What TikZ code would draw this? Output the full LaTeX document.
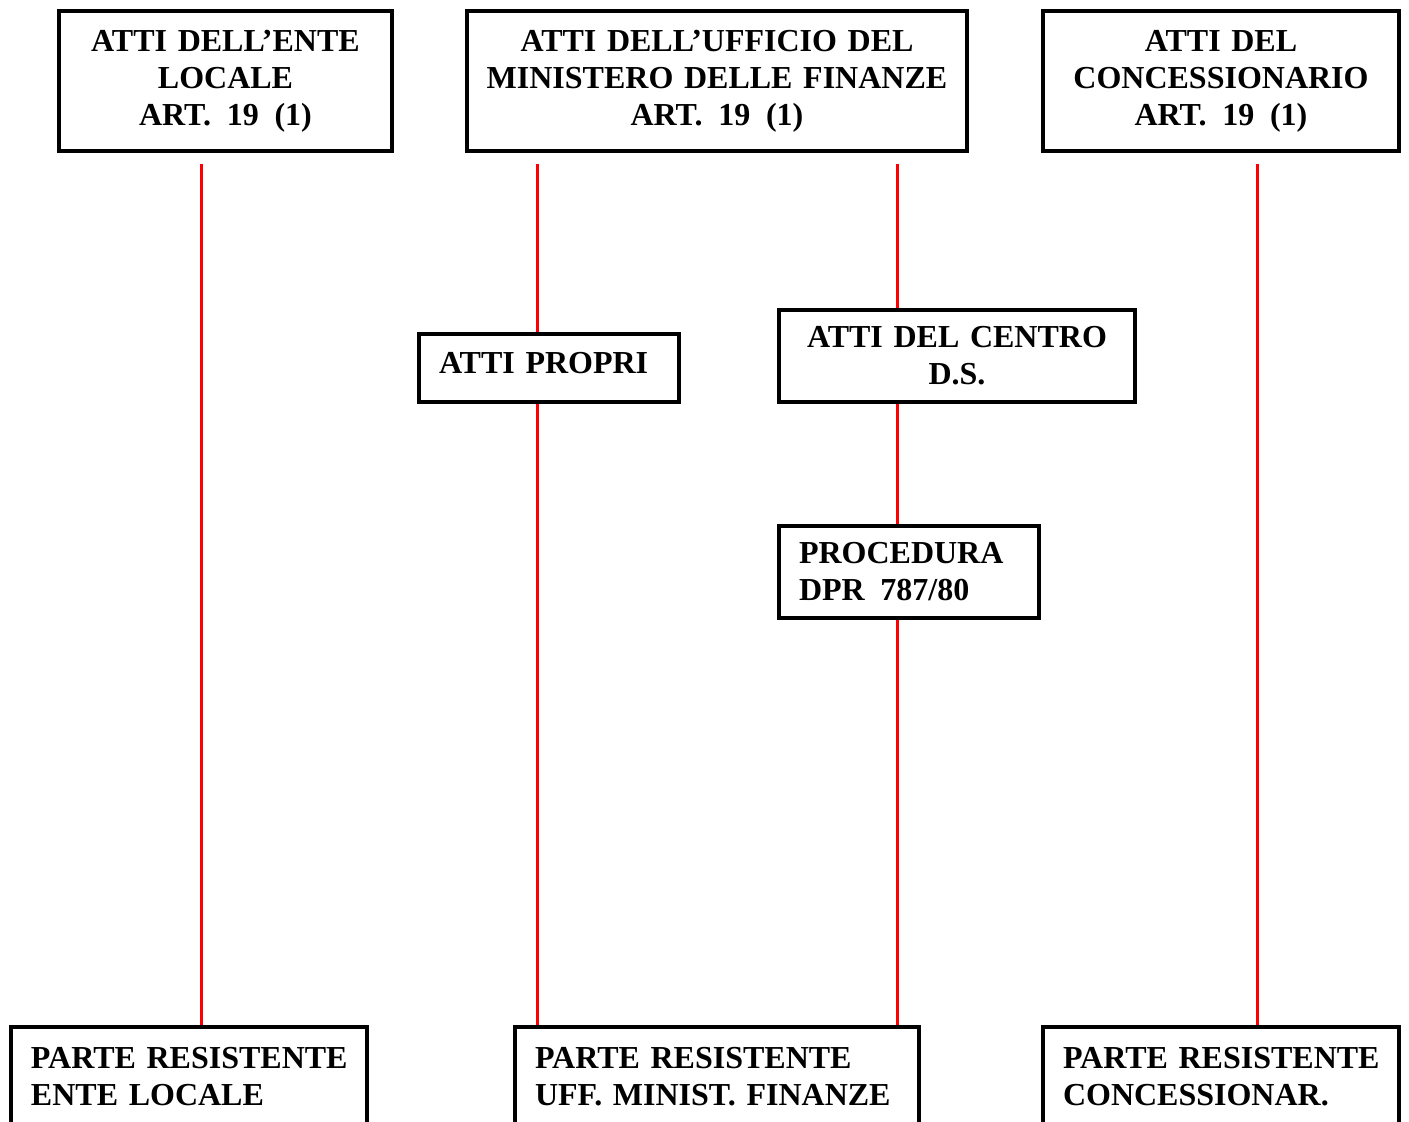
\documentclass[tikz,border=0pt]{standalone}
\usepackage{fontspec}
\setmainfont{Liberation Serif}
\usetikzlibrary{positioning, calc}
\tikzset{atto/.style={draw, line width=2pt, inner xsep=10pt, inner ysep=0pt, font=\bfseries\fontsize{16}{18.5}\selectfont, execute at begin node={\hyphenpenalty=10000\relax}},
	filo/.style={draw=red, line width=1.5pt},}
\newcommand{\gap}{\hspace{.49em}}

\begin{document}
\begin{tikzpicture}[x=0.5pt, y=-0.5pt]
			\useasboundingbox (0,0) rectangle (1409,1121);
			% Boxes on top
			\node[atto, inner xsep=4pt, align=center, text width=158.5pt, minimum height=70pt] (1) at (225.5,81) {ATTI DELL’ENTE\\LOCALE\\ART.\gap19\gap(1)};
			\node[atto, inner xsep=4pt, align=center, text width=242pt, minimum height=70pt] (2) at (717,81) {ATTI DELL’UFFICIO DEL\\MINISTERO~DELLE~FINANZE\\ART.\gap19\gap(1)};
			\node[atto, inner xsep=4pt, align=center, text width=170pt, minimum height=70pt] (3) at (1221,81) {ATTI DEL\\CONCESSIONARIO\\ART.\gap19\gap(1)};
			% Boxes in between
			\node[atto, align=left, text width=110pt, minimum height=34pt, text depth=5pt] (p) at (549,368) {ATTI~PROPRI};
			\node[atto, inner xsep=4pt, align=center, text width=170pt, minimum height=46pt] (c) at (957,356) {ATTI DEL CENTRO\\D.S.};
			\node[atto, align=left, text width=110pt, minimum height=46pt] (d) at (909,572) {PROCEDURA\\DPR\gap787/80};
			% Boxes at the bottom
			\node[atto, align=left, text width=158pt, minimum height=50pt] (4) at (189,1077) {PARTE~RESISTENTE\\ENTE~LOCALE};
			\node[atto, align=left, text width=182pt, minimum height=50pt] (5) at (717,1077) {PARTE~RESISTENTE\\UFF.~MINIST.~FINANZE};
			\node[atto, align=left, text width=158pt, minimum height=50pt] (6) at (1221,1077) {PARTE~RESISTENTE\\CONCESSIONAR.};
			% Lines
			\coordinate (a) at (201,164);
			\coordinate (b) at (537,164);
			\coordinate (e) at (897,164);
			\coordinate (f) at (1257,164);
			\draw[filo] (a) -- (a |- 4.north);
			\draw[filo] (b) -- (b |- p.north);
			\draw[filo] (b |- p.south) -- (b |- 5.north);
			\draw[filo] (e) -- (e |- c.north);
			\draw[filo] (e |- c.south) -- (e |- d.north);
			\draw[filo] (e |- d.south) -- (e |- 5.north);
			\draw[filo] (f) -- (f |- 6.north);
		\end{tikzpicture}
\end{document}
